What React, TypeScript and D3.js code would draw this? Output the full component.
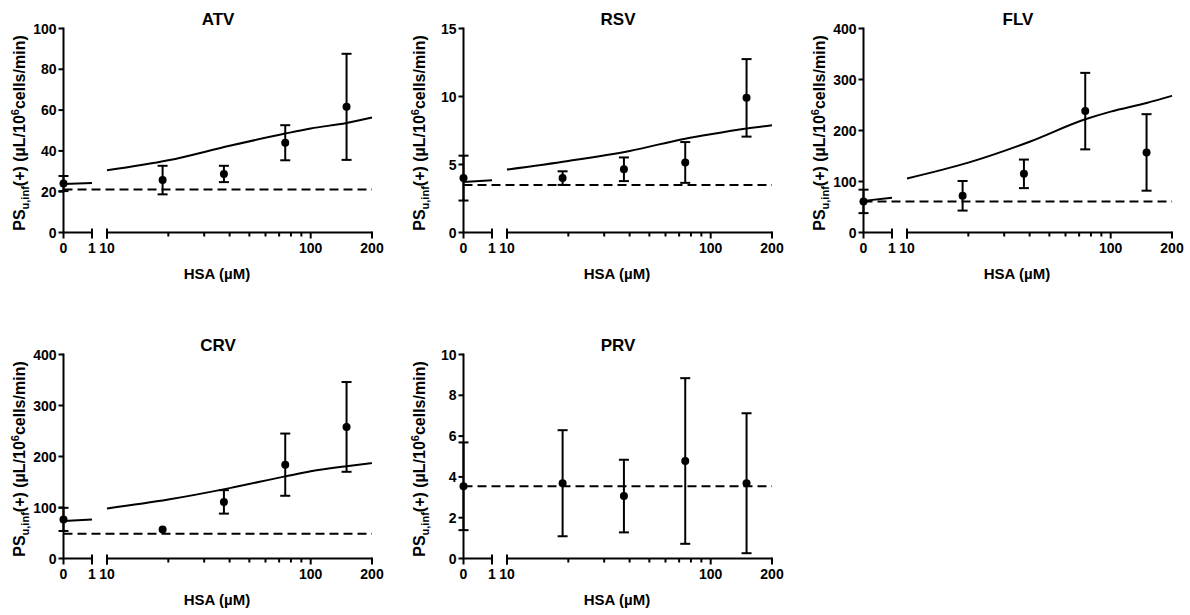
import React from "react";
import * as d3 from "d3";

// panel names, in reading order
const drugs = ["ATV", "RSV", "FLV", "CRV", "PRV"];

// HSA concentrations (µM) of measured points and of the model curve
const sampleHsa = [0, 18.75, 37.5, 75, 150];
const curveHsa = [0, 1, 10, 20, 40, 75, 100, 150, 200];

// measured PS values (mean and SD) per drug
const atvMean = [24, 25.7, 28.7, 44, 61.6];
const atvSd = [3.7, 7, 4, 8.6, 26];
const rsvMean = [4.0, 4.0, 4.65, 5.15, 9.9];
const rsvSd = [1.65, 0.5, 0.87, 1.5, 2.85];
const flvMean = [61, 72, 115, 238, 157];
const flvSd = [23, 29, 28, 75, 75];
const crvMean = [76.7, 57, 111, 184, 258];
const crvSd = [22.7, 0, 23, 61, 88];
const prvMean = [3.54, 3.69, 3.06, 4.78, 3.69];
const prvSd = [2.15, 2.6, 1.78, 4.06, 3.43];

// predicted curves (PRV has none)
const atvCurve = [23.8, 24.3, 30.5, 35.4, 42.5, 48.5, 51, 53.7, 56.4];
const rsvCurve = [3.72, 3.85, 4.63, 5.26, 6.0, 6.9, 7.23, 7.65, 7.89];
const flvCurve = [62, 68, 106, 137, 178, 222, 237, 254, 268];
const crvCurve = [73.4, 76.7, 98, 115.6, 138, 161, 171, 181, 187];

// baseline (no HSA) level, drawn dashed
const baselines = [21.1, 3.5, 60.8, 48.7, 3.54];

// y axis extents and tick steps
const yMaxes = [100, 15, 400, 400, 10];
const ySteps = [20, 5, 100, 100, 2];

const means = [atvMean, rsvMean, flvMean, crvMean, prvMean];
const sds = [atvSd, rsvSd, flvSd, crvSd, prvSd];
const curves = [atvCurve, rsvCurve, flvCurve, crvCurve, null];

const FONT = "'Liberation Sans', Arial, Helvetica, sans-serif";
const colStep = 400;
const rowStep = 326;

type PanelProps = { i: number };

const Panel = ({ i }: PanelProps) => {
  const ox = (i % 3) * colStep;
  const oy = Math.floor(i / 3) * rowStep;

  const x0 = ox + 63.5;
  const x1 = ox + 92;
  const xLogStart = ox + 107;
  const xLogEnd = ox + 372;
  const yTop = oy + 28.5;
  const yBottom = oy + 232.5;

  const xLin = d3.scaleLinear().domain([0, 1]).range([x0, x1]);
  const xLog = d3.scaleLog().domain([10, 200]).range([xLogStart, xLogEnd]);
  const xPos = (v: number) => (v <= 1 ? xLin(v) : xLog(v));

  const y = d3.scaleLinear().domain([0, yMaxes[i]]).range([yBottom, yTop]);
  const yTicks = d3.range(0, yMaxes[i] + ySteps[i] / 2, ySteps[i]);
  const logTicks = xLog.ticks();
  const majorLog = [10, 100, 200];

  const line = d3
    .line<[number, number]>()
    .x((d) => xPos(d[0]))
    .y((d) => y(d[1]))
    .curve(d3.curveMonotoneX);

  const curve = curves[i];
  const pts: [number, number][] = curve ? curveHsa.map((h, k) => [h, curve[k]]) : [];
  const seg1 = pts.filter((d) => d[0] <= 1);
  const seg2 = pts.filter((d) => d[0] >= 10);

  const stroke = "#000";
  const sw = 2;

  return (
    <g>
      {/* title */}
      <text
        x={ox + 218}
        y={oy + 25}
        textAnchor="middle"
        fontSize={17}
        fontWeight="bold"
        fontFamily={FONT}
      >
        {drugs[i]}
      </text>

      {/* y axis */}
      <line x1={x0} x2={x0} y1={yTop - 1} y2={yBottom + 6} stroke={stroke} strokeWidth={sw} />
      {yTicks.map((t) => (
        <g key={t}>
          <line x1={x0 - 5} x2={x0} y1={y(t)} y2={y(t)} stroke={stroke} strokeWidth={sw} />
          <text
            x={x0 - 7}
            y={y(t)}
            dy="0.36em"
            textAnchor="end"
            fontSize={14}
            fontWeight="bold"
            fontFamily={FONT}
          >
            {t}
          </text>
        </g>
      ))}

      {/* broken x axis */}
      <line x1={x0} x2={x1} y1={yBottom} y2={yBottom} stroke={stroke} strokeWidth={sw} />
      <line x1={x1} x2={x1} y1={yBottom - 4} y2={yBottom + 6} stroke={stroke} strokeWidth={sw} />
      <line x1={xLogStart} x2={xLogEnd} y1={yBottom} y2={yBottom} stroke={stroke} strokeWidth={sw} />
      <line x1={xLogStart} x2={xLogStart} y1={yBottom - 4} y2={yBottom + 6} stroke={stroke} strokeWidth={sw} />
      {logTicks.map((t) => (
        <line
          key={t}
          x1={xLog(t)}
          x2={xLog(t)}
          y1={t === 200 ? yBottom - 1 : yBottom}
          y2={yBottom + (majorLog.includes(t) ? 6 : 4)}
          stroke={stroke}
          strokeWidth={sw}
        />
      ))}
      {[0, 1].map((t) => (
        <text
          key={"l" + t}
          x={xLin(t)}
          y={oy + 253}
          textAnchor="middle"
          fontSize={14}
          fontWeight="bold"
          fontFamily={FONT}
        >
          {t}
        </text>
      ))}
      {majorLog.map((t) => (
        <text
          key={"g" + t}
          x={xLog(t)}
          y={oy + 253}
          textAnchor="middle"
          fontSize={14}
          fontWeight="bold"
          fontFamily={FONT}
        >
          {t}
        </text>
      ))}

      {/* axis titles */}
      <text
        x={ox + 217}
        y={oy + 279}
        textAnchor="middle"
        fontSize={15}
        fontWeight="bold"
        fontFamily={FONT}
      >
        HSA (µM)
      </text>
      <text
        transform={`translate(${ox + 25},${oy + 133}) rotate(-90)`}
        textAnchor="middle"
        fontSize={16}
        fontWeight="bold"
        fontFamily={FONT}
      >
        PS
        <tspan fontSize={11} dy={4}>u,inf</tspan>
        <tspan dy={-4}>(+) (µL/10</tspan>
        <tspan fontSize={11} dy={-6}>6</tspan>
        <tspan dy={6}>cells/min)</tspan>
      </text>

      {/* dashed baseline */}
      <line
        x1={x0}
        x2={xLogEnd}
        y1={y(baselines[i])}
        y2={y(baselines[i])}
        stroke={stroke}
        strokeWidth={sw}
        strokeDasharray="9 5"
      />

      {/* model curve */}
      {curve && (
        <>
          <path d={line(seg1) ?? ""} fill="none" stroke={stroke} strokeWidth={sw} />
          <path d={line(seg2) ?? ""} fill="none" stroke={stroke} strokeWidth={sw} />
        </>
      )}

      {/* measured points with SD */}
      {sampleHsa.map((h, k) => {
        const cx = xPos(h);
        const m = means[i][k];
        const s = sds[i][k];
        return (
          <g key={h}>
            {s > 0 && (
              <>
                <line x1={cx} x2={cx} y1={y(m - s)} y2={y(m + s)} stroke={stroke} strokeWidth={sw} />
                <line x1={cx - 5} x2={cx + 5} y1={y(m + s)} y2={y(m + s)} stroke={stroke} strokeWidth={sw} />
                <line x1={cx - 5} x2={cx + 5} y1={y(m - s)} y2={y(m - s)} stroke={stroke} strokeWidth={sw} />
              </>
            )}
            <circle cx={cx} cy={y(m)} r={4} fill="#000" />
          </g>
        );
      })}
    </g>
  );
};

export default function App() {
  return (
    <svg
      width={1190}
      height={615}
      viewBox="0 0 1190 615"
      style={{ position: "absolute", left: 0, top: 0, background: "#fff" }}
    >
      <rect width={1190} height={615} fill="#fff" />
      {drugs.map((d, i) => (
        <Panel key={d} i={i} />
      ))}
    </svg>
  );
}
